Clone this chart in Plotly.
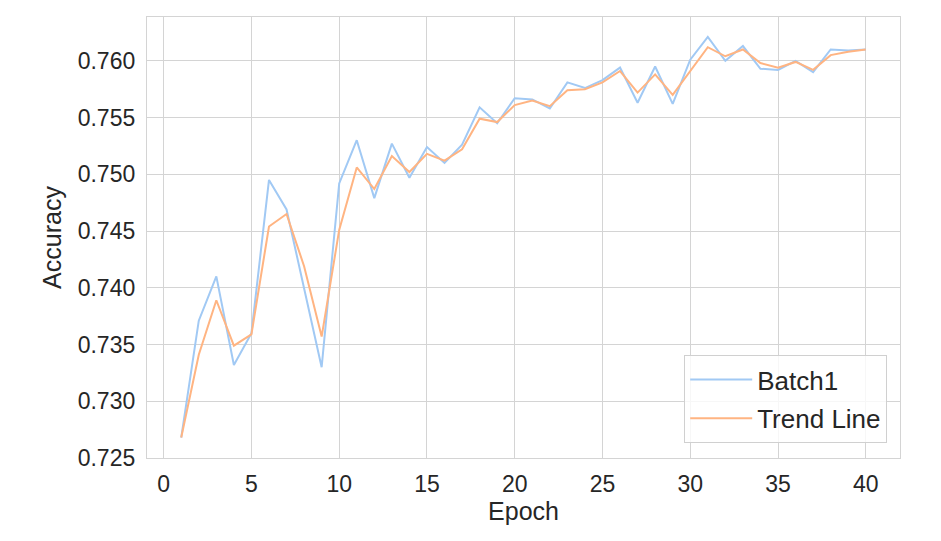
import plotly.graph_objects as go

epochs = list(range(1, 41))
batch1 = [0.7268, 0.7371, 0.7410, 0.7332, 0.7360, 0.7495, 0.7469, 0.7400, 0.7330, 0.7492,
          0.7530, 0.7479, 0.7527, 0.7497, 0.7524, 0.7510, 0.7526, 0.7559, 0.7545, 0.7567,
          0.7566, 0.7558, 0.7581, 0.7576, 0.7583, 0.7594, 0.7563, 0.7595, 0.7562, 0.7601,
          0.7621, 0.7600, 0.7613, 0.7593, 0.7592, 0.7600, 0.7590, 0.7610, 0.7609, 0.7610]
trend = [0.7268, 0.7341, 0.7389, 0.7349, 0.7359, 0.7454, 0.7465, 0.7419, 0.7357, 0.7451,
         0.7506, 0.7487, 0.7516, 0.7502, 0.7518, 0.7512, 0.7522, 0.7549, 0.7546, 0.7561,
         0.7565, 0.7560, 0.7574, 0.7575, 0.7581, 0.7591, 0.7572, 0.7588, 0.7570, 0.7591,
         0.7612, 0.7604, 0.7610, 0.7598, 0.7594, 0.7599, 0.7592, 0.7605, 0.7608, 0.7610]
x_ticks = [0, 5, 10, 15, 20, 25, 30, 35, 40]
y_ticks = [0.725, 0.730, 0.735, 0.740, 0.745, 0.750, 0.755, 0.760]

FONT = "Liberation Sans, Arial, sans-serif"
TXT = "#262626"
GRID = "#d4d4d4"

fig = go.Figure()
fig.add_trace(go.Scatter(x=epochs, y=batch1, mode="lines", name="Batch1", legendgroup="a",
                         line=dict(color="#a1c9f4", width=2)))
fig.add_trace(go.Scatter(x=epochs, y=trend, mode="lines", name="Trend Line", legendgroup="b",
                         line=dict(color="#ffb482", width=2)))

fig.update_layout(
    width=933, height=533,
    margin=dict(l=139, r=41, t=9, b=83),
    paper_bgcolor="white", plot_bgcolor="white",
    font=dict(family=FONT, color=TXT),
    showlegend=True,
    legend=dict(x=0.983, y=0.034, xanchor="right", yanchor="bottom",
                bgcolor="rgba(255,255,255,0.8)", bordercolor="#d0d0d0", borderwidth=1,
                font=dict(size=26, color=TXT), tracegroupgap=2, itemwidth=62),
)
fig.update_xaxes(
    range=[-0.95, 41.95], tickvals=x_ticks, ticktext=[str(v) for v in x_ticks],
    showgrid=True, gridcolor=GRID, gridwidth=1.3, zeroline=False,
    showline=True, linecolor=GRID, linewidth=1.3, mirror=True,
    ticks="outside", ticklen=5, tickcolor="rgba(0,0,0,0)",
    tickfont=dict(size=23, color=TXT),
    title=dict(text="Epoch", font=dict(size=25, color=TXT), standoff=6),
)
fig.update_yaxes(
    range=[0.72500, 0.76386], tickvals=y_ticks, ticktext=[f"{v:.3f}" for v in y_ticks],
    showgrid=True, gridcolor=GRID, gridwidth=1.3, zeroline=False,
    showline=True, linecolor=GRID, linewidth=1.3, mirror=True,
    ticks="outside", ticklen=6, tickcolor="rgba(0,0,0,0)",
    tickfont=dict(size=23, color=TXT),
    title=dict(text="Accuracy", font=dict(size=25, color=TXT), standoff=8),
)

fig.write_html("out.html")
